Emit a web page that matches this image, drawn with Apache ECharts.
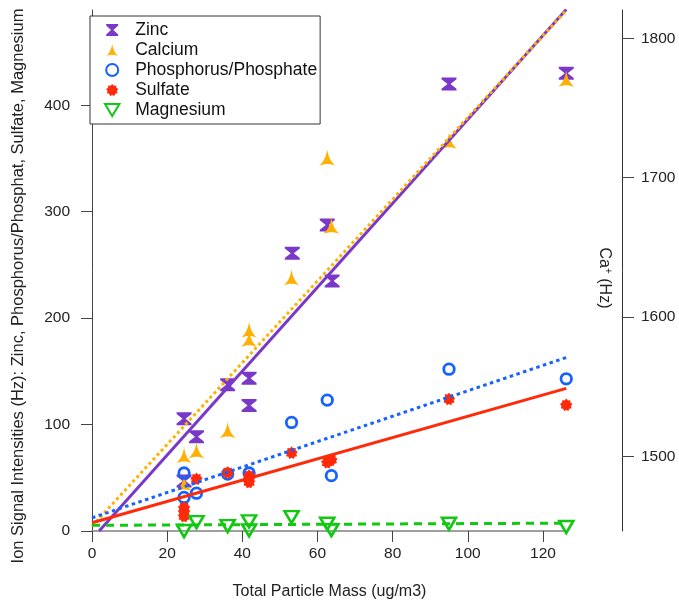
<!DOCTYPE html>
<html>
<head>
<meta charset="utf-8">
<script src="https://cdn.jsdelivr.net/npm/echarts@6/dist/echarts.min.js"></script>
<style>
  html, body { margin: 0; padding: 0; background: #fff; }
  #chart { width: 679px; height: 605px; }
</style>
</head>
<body>
<div id="chart"></div>
<script>
// Total particle mass (ug/m3) against ion signal intensities (Hz)
const zincX = [24.5, 24.5, 27.8, 36.1, 41.8, 41.8, 53.3, 62.6, 63.9, 95.0, 126.2];
const zincY = [105.5, 47, 88.5, 137.5, 143.5, 118, 261, 287.5, 235, 420, 430];

// Calcium is read against the right-hand Ca+ axis
const calciumX = [24.5, 24.5, 27.8, 36.1, 41.8, 41.8, 53.1, 62.6, 63.7, 95.0, 126.2];
const calciumY = [1501, 1481, 1504.5, 1519, 1591, 1584.5, 1628.5, 1714.5, 1665.5, 1726.5, 1771];

const phosX = [24.5, 24.5, 27.8, 36.1, 41.8, 53.1, 62.6, 63.7, 95.0, 126.2];
const phosY = [54.5, 31.5, 35.5, 53.5, 54.5, 102, 123, 52, 152, 143];

const sulfX = [24.5, 24.5, 24.5, 27.8, 36.1, 41.8, 41.8, 41.8, 53.1, 62.6, 63.7, 95.0, 126.2];
const sulfY = [22, 18, 14, 49, 55, 52, 49, 46, 73.5, 64.5, 67, 124, 118.5];

const mgX = [24.5, 27.8, 36.1, 41.8, 41.8, 53.1, 62.6, 63.7, 95.0, 126.2];
const mgY = [0, 8.3, 4.6, 9, 0.6, 13, 6.8, 0.8, 6.8, 3.7];

// Linear fit lines (end points)
const zincFitX = [1.9, 126.2];
const zincFitY = [0, 490];
const calciumFitX = [0, 126.2];
const calciumFitY = [1450, 1820];
const phosFitX = [0, 126.2];
const phosFitY = [12.3, 163];
const sulfFitX = [0, 126.2];
const sulfFitY = [7.7, 134];
const mgFitX = [0, 126.2];
const mgFitY = [5.3, 7.4];

const xTicks = [0, 20, 40, 60, 80, 100, 120];
const leftTicks = [0, 100, 200, 300, 400];
const rightTicks = [1500, 1600, 1700, 1800];

const names = ['Zinc', 'Calcium', 'Phosphorus/Phosphate', 'Sulfate', 'Magnesium'];

const COLORS = {
  zinc: '#7a38c8',
  calcium: '#ffb000',
  phos: '#1662ff',
  sulf: '#ff2a0a',
  mg: '#12c812'
};
const FONT = 'Liberation Sans, Arial, sans-serif';

function pairs(xs, ys) { return xs.map((x, i) => [x, ys[i]]); }

// Spiky burst marker used for sulfate
function burstPath(points, rOut, rIn) {
  let d = '';
  const n = points * 2;
  for (let i = 0; i < n; i++) {
    const a = (i / n) * Math.PI * 2 - Math.PI / 2;
    const r = i % 2 === 0 ? rOut : rIn;
    const px = (10 + r * Math.cos(a)).toFixed(2);
    const py = (10 + r * Math.sin(a)).toFixed(2);
    d += (i === 0 ? 'M' : 'L') + px + ',' + py;
  }
  return 'path://' + d + 'Z';
}

const SYM_ZINC = 'path://M0,0H12V1.6L7.2,6L12,10.4V12H0V10.4L4.8,6L0,1.6Z';
const SYM_CALCIUM = 'path://M6,0C6.8,5 8.4,9.2 12,12C8.4,10.4 3.6,10.4 0,12C3.6,9.2 5.2,5 6,0Z';
const SYM_SULF = burstPath(9, 10, 7.6);
const SYM_MG = 'path://M0,0L12,0L6,10Z';

const chart = echarts.init(document.getElementById('chart'), null, { renderer: 'canvas' });

const fitLine = (name, xs, ys, color, type, yIdx, width) => ({
  name: name,
  type: 'line',
  yAxisIndex: yIdx,
  data: pairs(xs, ys),
  showSymbol: false,
  symbol: 'none',
  silent: true,
  clip: true,
  lineStyle: { color: color, width: width, type: type, cap: 'butt' },
  z: 3
});

const plain = v => String(v);

chart.setOption({
  animation: false,
  backgroundColor: '#fff',
  textStyle: { fontFamily: FONT },
  grid: { left: 92, right: 112, top: 10, bottom: 66, containLabel: false },
  legend: {
    data: names,
    orient: 'vertical',
    left: 90,
    top: 16,
    backgroundColor: '#fff',
    borderColor: '#333',
    borderWidth: 1,
    borderRadius: 0,
    padding: [5, 3, 5, 14],
    itemWidth: 36,
    itemHeight: 12,
    itemGap: 2,
    selectedMode: false,
    textStyle: { fontFamily: FONT, fontSize: 17.5, color: '#111' }
  },
  xAxis: {
    type: 'value',
    min: 0,
    max: 126.4,
    interval: 20,
    axisLine: { show: true, onZero: false, lineStyle: { color: '#808080', width: 1.5 } },
    axisTick: { show: true, inside: false, length: 11, lineStyle: { color: '#444' },
                customValues: xTicks },
    axisLabel: { color: '#222', fontSize: 15.5, margin: 15, fontFamily: FONT, customValues: xTicks,
                 formatter: plain },
    splitLine: { show: false },
    name: 'Total Particle Mass (ug/m3)',
    nameLocation: 'middle',
    nameGap: 53,
    nameTextStyle: { color: '#222', fontSize: 16, fontFamily: FONT }
  },
  yAxis: [
    {
      type: 'value',
      position: 'left',
      offset: 7,
      min: 0,
      max: 489.5,
      interval: 100,
      axisLine: { show: true, lineStyle: { color: '#444', width: 1 } },
      axisTick: { show: true, inside: false, length: 11, lineStyle: { color: '#444' },
                  customValues: leftTicks },
      axisLabel: { color: '#222', fontSize: 15.5, margin: 15, fontFamily: FONT, customValues: leftTicks,
                   formatter: plain },
      splitLine: { show: false }
    },
    {
      type: 'value',
      position: 'right',
      offset: 55,
      min: 1446.6,
      max: 1820.3,
      axisLine: { show: true, lineStyle: { color: '#333', width: 1 } },
      axisTick: { show: true, inside: false, length: 12, lineStyle: { color: '#444' },
                  customValues: rightTicks },
      axisLabel: { color: '#222', fontSize: 15.5, margin: 19, fontFamily: FONT, customValues: rightTicks,
                   formatter: plain },
      splitLine: { show: false }
    }
  ],
  graphic: [
    {
      type: 'text',
      x: 18,
      y: 286,
      rotation: Math.PI / 2,
      silent: true,
      style: {
        text: 'Ion Signal Intensities (Hz): Zinc, Phosphorus/Phosphat, Sulfate, Magnesium',
        font: '16.5px ' + FONT,
        fill: '#222',
        align: 'center',
        verticalAlign: 'middle'
      }
    },
    {
      type: 'text',
      x: 604,
      y: 278,
      rotation: -Math.PI / 2,
      silent: true,
      style: {
        text: 'Ca{sup|+} (Hz)',
        font: '16px ' + FONT,
        fill: '#222',
        align: 'center',
        verticalAlign: 'middle',
        rich: {
          sup: { fontSize: 10, verticalAlign: 'top', padding: [0, 0, 8, 0], fontFamily: FONT, fill: '#222' }
        }
      }
    }
  ],
  series: [
    {
      name: 'Zinc', type: 'scatter', yAxisIndex: 0,
      data: pairs(zincX, zincY),
      symbol: SYM_ZINC, symbolSize: [15, 13],
      itemStyle: { color: COLORS.zinc, opacity: 1 },
      z: 2
    },
    fitLine('Zinc fit', zincFitX, zincFitY, COLORS.zinc, 'solid', 0, 3),
    {
      name: 'Calcium', type: 'scatter', yAxisIndex: 1,
      data: pairs(calciumX, calciumY),
      symbol: SYM_CALCIUM, symbolSize: [16, 16],
      itemStyle: { color: COLORS.calcium, opacity: 1 },
      z: 2
    },
    fitLine('Calcium fit', calciumFitX, calciumFitY, COLORS.calcium, [3, 3], 1, 3),
    {
      name: 'Phosphorus/Phosphate', type: 'scatter', yAxisIndex: 0,
      data: pairs(phosX, phosY),
      symbol: 'circle', symbolSize: 10.5,
      itemStyle: { color: 'rgba(255,255,255,0)', borderColor: COLORS.phos, borderWidth: 2.8, opacity: 1 },
      z: 2
    },
    fitLine('Phosphorus fit', phosFitX, phosFitY, COLORS.phos, [3.5, 3.5], 0, 3),
    {
      name: 'Sulfate', type: 'scatter', yAxisIndex: 0,
      data: pairs(sulfX, sulfY),
      symbol: SYM_SULF, symbolSize: 12.5,
      itemStyle: { color: COLORS.sulf, opacity: 1 },
      z: 2
    },
    fitLine('Sulfate fit', sulfFitX, sulfFitY, COLORS.sulf, 'solid', 0, 3),
    {
      name: 'Magnesium', type: 'scatter', yAxisIndex: 0,
      data: pairs(mgX, mgY),
      symbol: SYM_MG, symbolSize: [14, 12],
      clip: false,
      itemStyle: { color: 'rgba(255,255,255,0)', borderColor: COLORS.mg, borderWidth: 2.6, opacity: 1 },
      z: 2
    },
    fitLine('Magnesium fit', mgFitX, mgFitY, COLORS.mg, [8, 6], 0, 3)
  ]
});
</script>
</body>
</html>
